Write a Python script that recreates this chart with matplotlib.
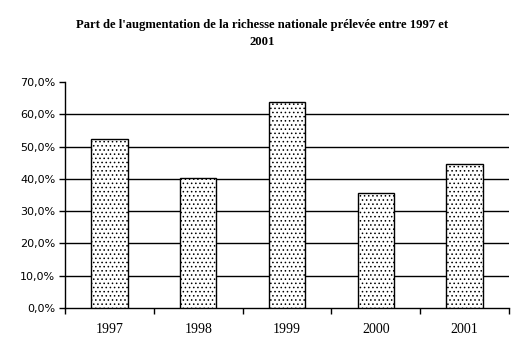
import numpy as np
import matplotlib.pyplot as plt
from matplotlib.ticker import FuncFormatter

plt.rcParams['font.family'] = ['Liberation Serif', 'DejaVu Serif']
plt.rcParams['hatch.linewidth'] = 0.6

# Data
years = ['1997', '1998', '1999', '2000', '2001']
shares = [52.2, 40.4, 63.7, 35.5, 44.5]

fig = plt.figure(figsize=(5.25, 3.56), dpi=100)
ax = fig.add_axes([0.1238, 0.1348, 0.8457, 0.6349])

x = np.arange(len(years))
ax.bar(x, shares, width=0.41, color='white', edgecolor='black', hatch='....',
       linewidth=1, zorder=3)

ax.set_xlim(-0.5, len(years) - 0.5)
ax.set_ylim(0, 70)
ax.set_yticks(np.arange(0, 71, 10))
ax.yaxis.set_major_formatter(FuncFormatter(lambda v, p: f'{v:.1f}%'.replace('.', ',')))
ax.set_xticks(x)
ax.set_xticklabels(years, fontsize=10)
ax.set_xticks(np.arange(-0.5, len(years)), minor=True)
ax.tick_params(axis='x', which='major', length=0, pad=11)
ax.tick_params(axis='x', which='minor', length=4, direction='out', width=1)
ax.tick_params(axis='y', length=4, direction='out', width=1, pad=3)
for lab in ax.get_yticklabels():
    lab.set_family('DejaVu Sans')
    lab.set_fontsize(8)

for v in range(10, 70, 10):
    ax.axhline(v, color='black', linewidth=1, zorder=1)

for s in ['top', 'right']:
    ax.spines[s].set_visible(False)
ax.spines['left'].set_linewidth(1)
ax.spines['bottom'].set_linewidth(1)

fig.suptitle("Part de l'augmentation de la richesse nationale prélevée entre 1997 et\n2001",
             fontsize=9.1, fontweight='bold', y=0.948, linespacing=1.6)

fig.savefig('out.png', dpi=100)
